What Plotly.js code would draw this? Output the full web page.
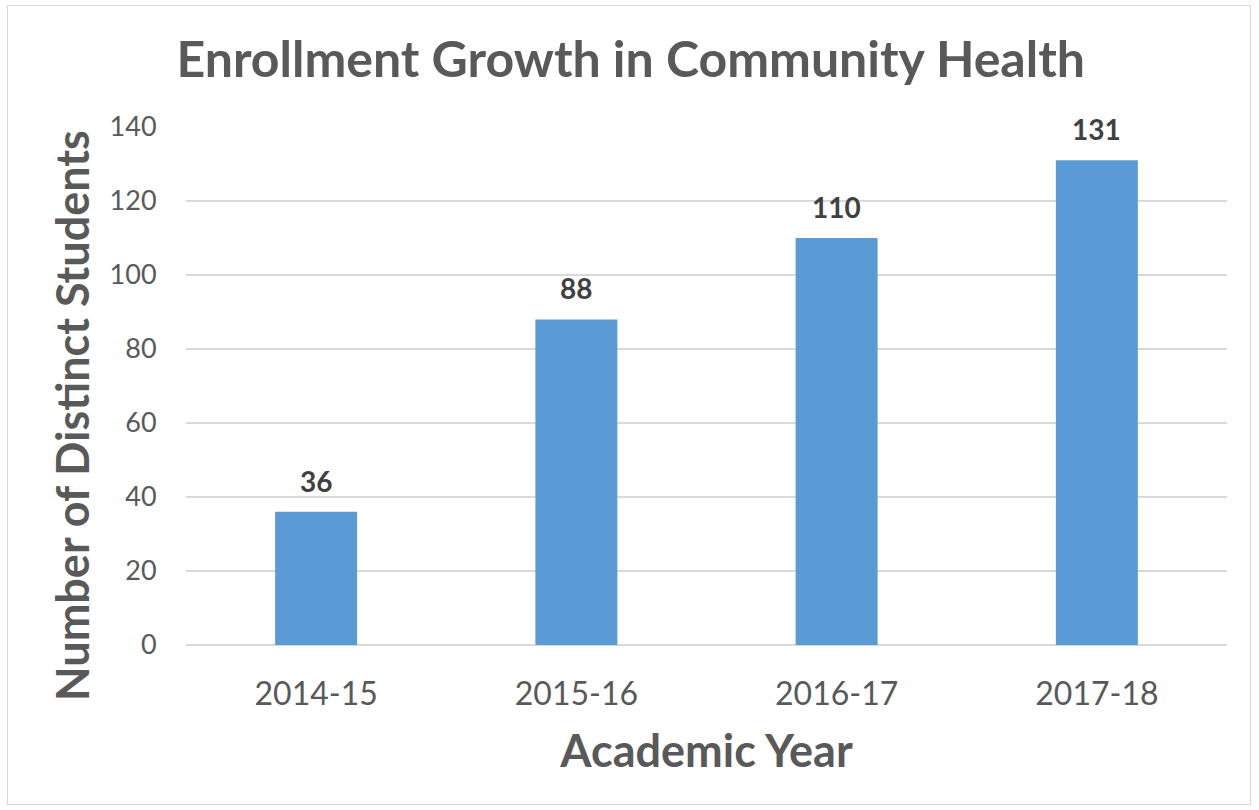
<!DOCTYPE html>
<html>
<head>
<meta charset="utf-8">
<script src="https://cdn.plot.ly/plotly-3.0.1.min.js"></script>
<style>
html,body{margin:0;padding:0;background:#fff;}
#chart{width:1259px;height:810px;}
#frame{position:absolute;left:7px;top:5px;width:1244px;height:800px;border:1.5px solid #D9D9D9;box-sizing:border-box;pointer-events:none;}
</style>
</head>
<body>
<div id="chart"></div>
<div id="frame"></div>
<script>
const years = ["2014-15", "2015-16", "2016-17", "2017-18"];
const students = [36, 88, 110, 131];
const yTicks = [0, 20, 40, 60, 80, 100, 120, 140];

const FONT = "Lato, 'Open Sans', sans-serif";
const GREY = "#595959";

const trace = {
  type: "bar",
  x: years,
  y: students,
  marker: {color: "#5B9BD5"},
  hoverinfo: "x+y"
};

const labels = years.map((yr, i) => ({
  x: yr, y: students[i], xref: "x", yref: "y",
  text: "<b>" + students[i] + "</b>",
  showarrow: false, yanchor: "bottom", yshift: 12,
  font: {family: FONT, size: 28, color: "#404040"}
}));

const yTitle = {
  xref: "paper", yref: "paper", x: 0, y: 0.5,
  xanchor: "center", yanchor: "middle", xshift: -114, yshift: -30,
  textangle: -90, showarrow: false,
  text: "<b>Number of Distinct Students</b>",
  font: {family: FONT, size: 45, color: GREY}
};

const layout = {
  width: 1259, height: 810,
  margin: {l: 186, r: 32, t: 127, b: 165},
  paper_bgcolor: "#fff", plot_bgcolor: "#fff",
  bargap: 0.685,
  showlegend: false,
  title: {
    text: "<b>Enrollment Growth in Community Health</b>",
    x: 0.501, xanchor: "center", y: 0.926, yanchor: "middle",
    font: {family: FONT, size: 50, color: GREY}
  },
  xaxis: {
    type: "category",
    showgrid: false, zeroline: false, showline: false,
    ticks: "outside", ticklen: 21, tickcolor: "rgba(0,0,0,0)",
    tickfont: {family: FONT, size: 32, color: GREY},
    title: {text: "<b>Academic Year</b>", standoff: 24,
            font: {family: FONT, size: 45, color: GREY}}
  },
  yaxis: {
    range: [0, 140],
    tickvals: yTicks,
    showgrid: true, gridcolor: "#D9D9D9", gridwidth: 1.5,
    zeroline: true, zerolinecolor: "#D9D9D9", zerolinewidth: 1.5,
    showline: false,
    ticks: "outside", ticklen: 23, tickcolor: "rgba(0,0,0,0)",
    tickfont: {family: FONT, size: 27, color: GREY}
  },
  annotations: labels.concat([yTitle])
};

Plotly.newPlot("chart", [trace], layout, {displayModeBar: false, staticPlot: true});
</script>
</body>
</html>
